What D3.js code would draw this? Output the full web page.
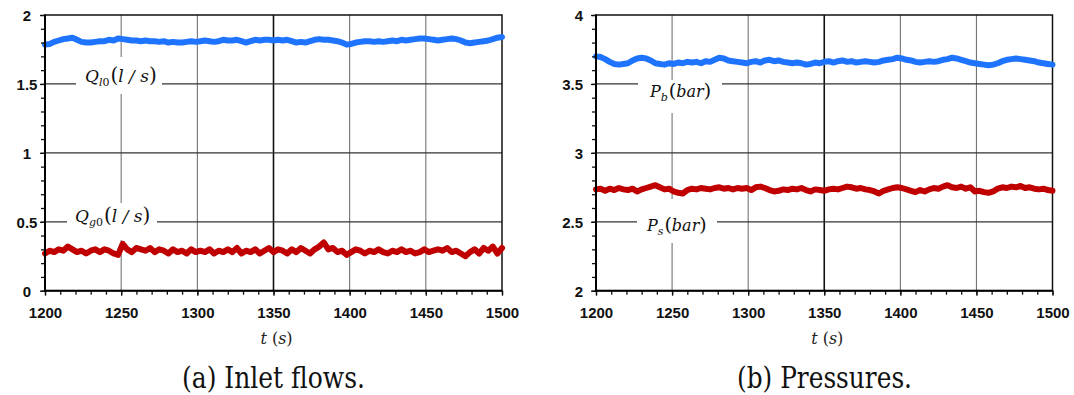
<!DOCTYPE html>
<html><head><meta charset="utf-8">
<script src="https://cdn.jsdelivr.net/npm/d3@7"></script>
<style>
html,body{margin:0;padding:0;background:#fff;}
svg{display:block;}
.tick text{font-family:"Liberation Sans",Arial,sans-serif;font-weight:bold;font-size:15px;fill:#111;}
.serif{font-family:"DejaVu Serif";}
</style></head>
<body>
<svg id="c" width="1074" height="395"></svg>
<script>
// ---------- DATA ----------
const time = d3.range(1200, 1501, 3); // t (s), sampled every 3 s
const Ql0 = [1.785,1.79,1.805,1.815,1.825,1.83,1.835,1.82,1.805,1.80,1.80,1.805,1.81,1.81,1.82,1.815,1.83,1.825,1.82,1.815,
 1.815,1.81,1.815,1.81,1.81,1.805,1.81,1.80,1.805,1.80,1.80,1.805,1.81,1.805,1.81,1.815,1.81,1.805,1.81,1.82,
 1.815,1.815,1.82,1.81,1.80,1.81,1.82,1.815,1.82,1.82,1.815,1.82,1.815,1.82,1.81,1.80,1.805,1.80,1.81,1.82,
 1.825,1.82,1.82,1.815,1.81,1.80,1.785,1.79,1.80,1.805,1.81,1.81,1.805,1.81,1.805,1.81,1.815,1.81,1.82,1.815,
 1.82,1.825,1.83,1.83,1.825,1.82,1.815,1.82,1.825,1.83,1.825,1.815,1.80,1.795,1.80,1.805,1.81,1.815,1.825,1.835,1.84];
const Qg0 = [0.27,0.29,0.28,0.30,0.29,0.32,0.30,0.28,0.29,0.27,0.29,0.30,0.28,0.30,0.29,0.27,0.26,0.34,0.30,0.28,
 0.31,0.30,0.29,0.31,0.28,0.30,0.29,0.27,0.30,0.28,0.29,0.27,0.30,0.28,0.29,0.28,0.30,0.27,0.29,0.28,
 0.30,0.28,0.31,0.27,0.29,0.28,0.30,0.27,0.29,0.31,0.28,0.30,0.29,0.27,0.30,0.28,0.31,0.29,0.27,0.30,
 0.32,0.35,0.30,0.31,0.28,0.29,0.26,0.28,0.30,0.29,0.27,0.29,0.28,0.30,0.28,0.27,0.29,0.28,0.30,0.28,
 0.29,0.27,0.28,0.30,0.28,0.29,0.30,0.29,0.31,0.28,0.29,0.27,0.25,0.28,0.30,0.27,0.31,0.29,0.32,0.27,0.31];
const Pb = [3.70,3.695,3.68,3.66,3.645,3.64,3.645,3.65,3.67,3.685,3.69,3.685,3.67,3.65,3.645,3.64,3.65,3.645,3.655,3.65,
 3.66,3.655,3.66,3.65,3.665,3.66,3.675,3.69,3.685,3.67,3.665,3.66,3.655,3.65,3.66,3.665,3.655,3.67,3.675,3.665,
 3.67,3.66,3.655,3.65,3.655,3.65,3.64,3.645,3.655,3.65,3.66,3.665,3.655,3.665,3.67,3.66,3.665,3.655,3.66,3.665,
 3.66,3.655,3.66,3.67,3.675,3.68,3.69,3.685,3.675,3.67,3.66,3.655,3.66,3.665,3.66,3.665,3.675,3.68,3.69,3.685,
 3.675,3.665,3.655,3.65,3.645,3.64,3.635,3.64,3.65,3.665,3.675,3.68,3.685,3.68,3.675,3.67,3.665,3.655,3.65,3.645,3.64];
const Ps = [2.735,2.74,2.725,2.74,2.73,2.745,2.735,2.73,2.74,2.72,2.735,2.745,2.755,2.765,2.75,2.735,2.74,2.72,2.71,2.705,
 2.73,2.74,2.735,2.745,2.74,2.735,2.745,2.75,2.74,2.745,2.735,2.745,2.74,2.745,2.73,2.75,2.755,2.745,2.73,2.72,
 2.725,2.735,2.73,2.74,2.735,2.745,2.73,2.72,2.735,2.73,2.725,2.735,2.74,2.735,2.745,2.755,2.75,2.74,2.745,2.735,
 2.73,2.72,2.705,2.725,2.735,2.745,2.75,2.745,2.735,2.725,2.715,2.73,2.72,2.735,2.745,2.74,2.755,2.765,2.75,2.745,
 2.755,2.74,2.75,2.72,2.725,2.715,2.71,2.72,2.74,2.75,2.745,2.755,2.75,2.76,2.745,2.75,2.74,2.735,2.74,2.73,2.725];
const xTicks = [1200,1250,1300,1350,1400,1450,1500];
const yTicksA = [0,0.5,1,1.5,2];
const yTicksB = [2,2.5,3,3.5,4];
const captions = ["(a) Inlet flows.", "(b) Pressures."];

// ---------- DRAW ----------
const svg = d3.select("#c");
const BLUE = "#1f74ff", RED = "#c00000";

function panel(cfg){
  const g = svg.append("g");
  const x = d3.scaleLinear().domain([1200,1500]).range([cfg.x0, cfg.x1]);
  const y = d3.scaleLinear().domain(cfg.ydom).range([290.7, 15]);
  const [ylo, yhi] = cfg.ydom;
  const gridX = xTicks.slice(1,-1);
  g.selectAll(".gx").data(gridX).enter().append("line")
    .attr("x1", d=>x(d)).attr("x2", d=>x(d)).attr("y1", y(yhi)).attr("y2", y(ylo))
    .attr("stroke", d=> d===1350 ? "#111" : "#666")
    .attr("stroke-width", d=> d===1350 ? 1.6 : 1);
  const gridY = cfg.yticks.slice(1,-1);
  g.selectAll(".gy").data(gridY).enter().append("line")
    .attr("x1", x(1200)).attr("x2", x(1500)).attr("y1", d=>y(d)).attr("y2", d=>y(d))
    .attr("stroke", "#333").attr("stroke-width", 1.2);
  g.append("rect").attr("x", x(1200)).attr("y", y(yhi))
    .attr("width", x(1500)-x(1200)).attr("height", y(ylo)-y(yhi))
    .attr("fill","none").attr("stroke","#111").attr("stroke-width",1.5);
  cfg.labels.forEach(L=>{
    g.append("rect").attr("x",L.bx).attr("y",L.by).attr("width",L.bw).attr("height",L.bh).attr("fill","#fff");
    const t = g.append("text").attr("class","serif").attr("x",L.tx).attr("y",L.ty).attr("fill","#111");
    t.append("tspan").attr("font-style","italic").attr("font-size",L.fs).text(L.main);
    L.sub.forEach((s,i)=>{
      t.append("tspan").attr("font-size",11).attr("font-style", s.it ? "italic":"normal")
        .attr("dy", i===0 ? 4 : 0).text(s.t);
    });
    t.append("tspan").attr("font-size",L.fs+3).attr("dy",-4).attr("dx",1).text("(");
    t.append("tspan").attr("font-style","italic").attr("font-size",L.fs).text(L.unit);
    t.append("tspan").attr("font-size",L.fs+3).text(")");
  });
  const line = d3.line().x((d,i)=>x(time[i])).y(d=>y(d)).curve(d3.curveLinear);
  cfg.series.forEach(s=>{
    g.append("path").datum(s.v).attr("d", line).attr("fill","none")
      .attr("stroke", s.c).attr("stroke-width", 6).attr("stroke-linejoin","round").attr("stroke-linecap","round");
  });
  const gx = g.append("g").attr("transform",`translate(0,${y(ylo)})`);
  gx.call(d3.axisBottom(x).tickValues(d3.range(1200,1501,10)).tickSize(4).tickFormat(""));
  gx.select(".domain").remove();
  const gx2 = g.append("g").attr("transform",`translate(0,${y(ylo)})`);
  gx2.call(d3.axisBottom(x).tickValues(xTicks).tickSize(5).tickFormat(d3.format("d")));
  gx2.select(".domain").remove();
  gx2.selectAll(".tick text").attr("y", 27.5).attr("dy", 0);
  const gy = g.append("g").attr("transform",`translate(${x(1200)},0)`);
  gy.call(d3.axisLeft(y).tickValues(d3.range(ylo, yhi+0.001, 0.1)).tickSize(4).tickFormat(""));
  gy.select(".domain").remove();
  const gy2 = g.append("g").attr("transform",`translate(${x(1200)},0)`);
  gy2.call(d3.axisLeft(y).tickValues(cfg.yticks).tickSize(5).tickFormat(d=>String(d)));
  gy2.select(".domain").remove();
  gy2.selectAll(".tick text").attr("x", cfg.ylx).attr("text-anchor", cfg.yanchor).attr("dy","0.36em");
  g.selectAll(".tick line").attr("stroke","#111").attr("stroke-width",1.3);
  g.append("line").attr("x1",x(1200)).attr("x2",x(1200)).attr("y1",y(yhi)-0.5).attr("y2",y(ylo)+1)
    .attr("stroke","#000").attr("stroke-width",2);
  g.append("line").attr("x1",x(1200)-1).attr("x2",x(1500)).attr("y1",y(ylo)).attr("y2",y(ylo))
    .attr("stroke","#000").attr("stroke-width",2);
  const cx = (x(1200)+x(1500))/2 + 3;
  const at = g.append("text").attr("class","serif").attr("x",cx).attr("y",344).attr("text-anchor","middle")
    .attr("font-size",16).attr("fill","#222");
  at.append("tspan").attr("font-style","italic").text("t");
  at.append("tspan").text(" (");
  at.append("tspan").attr("font-style","italic").text("s");
  at.append("tspan").text(")");
  g.append("text").attr("class","serif").attr("x",cfg.capX).attr("y",388)
    .attr("font-size",29).attr("fill","#111")
    .attr("textLength",cfg.capW).attr("lengthAdjust","spacingAndGlyphs")
    .text(cfg.caption);
}

panel({x0:45, x1:502, ydom:[0,2], yticks:yTicksA, ylx:-18, yanchor:"middle", caption:captions[0], capX:182, capW:183,
  series:[{v:Ql0,c:BLUE},{v:Qg0,c:RED}],
  labels:[
    {bx:76,by:57,bw:86,bh:37,tx:85,ty:82,fs:17,main:"Q",sub:[{t:"l",it:true},{t:"0",it:false}],unit:"l / s"},
    {bx:67,by:203,bw:90,bh:37,tx:75,ty:222,fs:17,main:"Q",sub:[{t:"g",it:true},{t:"0",it:false}],unit:"l / s"}
  ]});
panel({x0:596, x1:1052.5, ydom:[2,4], yticks:yTicksB, ylx:-13, yanchor:"end", caption:captions[1], capX:737, capW:175,
  series:[{v:Pb,c:BLUE},{v:Ps,c:RED}],
  labels:[
    {bx:638,by:80,bw:84,bh:33,tx:650,ty:97,fs:16,main:"P",sub:[{t:"b",it:true}],unit:"bar"},
    {bx:637,by:199,bw:80,bh:44,tx:647,ty:231,fs:16,main:"P",sub:[{t:"s",it:true}],unit:"bar"}
  ]});
</script>
</body></html>
